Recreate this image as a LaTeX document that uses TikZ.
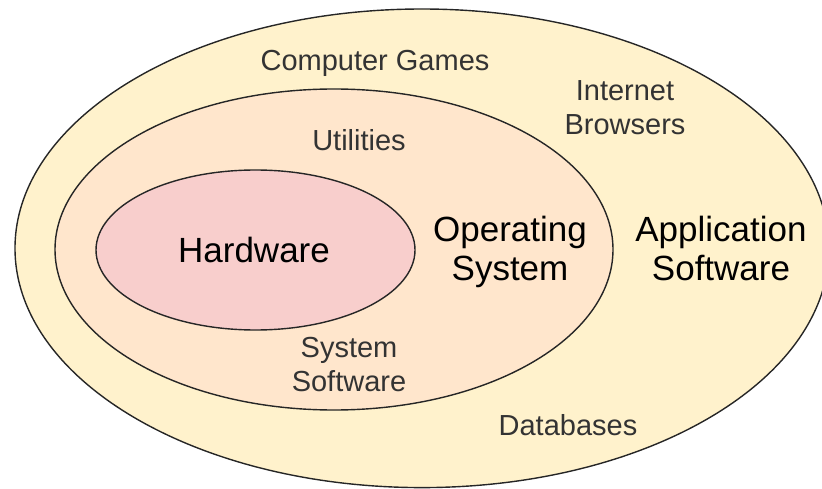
\documentclass[tikz,border=0pt]{standalone}
\usepackage{fontspec}
\setmainfont{Liberation Sans}
\definecolor{appfill}{HTML}{FFF2CC}
\definecolor{osfill}{HTML}{FFE6CC}
\definecolor{hwfill}{HTML}{F8CECC}
\definecolor{labelgray}{HTML}{333333}
\tikzset{
  layer/.style={draw=black!85, line width=1.4pt},
  small/.style={font=\fontsize{29}{34}\selectfont, text=labelgray, align=center, inner sep=0pt},
  big/.style={font=\fontsize{35}{38.5}\selectfont, text=black, align=center, inner sep=0pt}
}
\begin{document}
\begin{tikzpicture}[x=1pt,y=-1pt]
      \useasboundingbox (0,0) rectangle (822,489);
      \clip (0,0) rectangle (822,489);
      \begin{scope}
        \filldraw[layer, fill=appfill] (422,248.3) ellipse [x radius=407, y radius=239.3];
        \filldraw[layer, fill=osfill] (334,249.5) ellipse [x radius=279, y radius=160.5];
        \filldraw[layer, fill=hwfill] (255.5,250) ellipse [x radius=159.5, y radius=80];
      \end{scope}
      \draw
        (375,63) node[small] (games){Computer Games}
        (625,108) node[small] (browsers){Internet\\Browsers}
        (359,140.5) node[small] (utilities){Utilities}
        (349,364.7) node[small] (syssoft){System\\Software}
        (568,425.5) node[small] (databases){Databases}
        (254,249.5) node[big] (hardware){Hardware}
        (510,252) node[big] (os){Operating\\System}
        (721,248.5) node[big] (appsoft){Application\\Software};
    \end{tikzpicture}
\end{document}
